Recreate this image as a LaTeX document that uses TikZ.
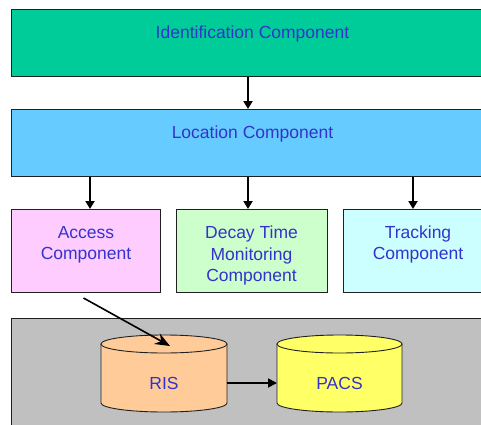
\documentclass[tikz,border=0pt]{standalone}
\usepackage{fontspec}
\setmainfont{Liberation Sans}
\usetikzlibrary{arrows.meta,calc}
\definecolor{idgreen}{HTML}{00CC99}
\definecolor{locblue}{HTML}{66CCFF}
\definecolor{accpink}{HTML}{FFCCFF}
\definecolor{decgreen}{HTML}{CCFFCC}
\definecolor{trkcyan}{HTML}{CCFFFF}
\definecolor{grayback}{HTML}{C0C0C0}
\definecolor{risorange}{HTML}{FFCC99}
\definecolor{pacsyellow}{HTML}{FFFF66}
\definecolor{txtblue}{HTML}{3333CC}
\definecolor{edge}{HTML}{202020}
\begin{document}
\begin{tikzpicture}[x=1pt,y=1pt,
  box/.style={draw=edge, line width=1pt, anchor=north west, inner sep=0pt},
  txt/.style={text=txtblue, font=\fontsize{17.5}{21.5}\selectfont, align=center, inner sep=0pt},
  varr/.style={line width=2.2pt, -{Triangle[length=8pt,width=9pt]}},
  darr/.style={line width=1.6pt, -{Stealth[length=15pt,width=12pt,inset=5pt]}},
  harr/.style={line width=1.8pt, -{Triangle[length=9pt,width=9pt]}},
  cyl/.style={draw=edge, line width=0.9pt}]
\useasboundingbox (0,0) rectangle (481,424);
\clip (0,0) rectangle (481,424);
% boxes
\node[box, fill=idgreen, minimum width=482pt, minimum height=67pt] (id) at (11,415) {};
\node[box, fill=locblue, minimum width=482pt, minimum height=67pt] (loc) at (11,315) {};
\node[box, fill=accpink, minimum width=149pt, minimum height=83pt] (acc) at (11,215) {};
\node[box, fill=decgreen, minimum width=151pt, minimum height=83pt] (dec) at (176,215) {};
\node[box, fill=trkcyan, minimum width=150pt, minimum height=83pt] (trk) at (343,215) {};
\node[box, fill=grayback, minimum width=482pt, minimum height=120pt] (db) at (11,106) {};
% texts
\node[txt] (idt) at (252.5,390) {Identification Component};
\node[txt] (loct) at (252.5,290) {Location Component};
\node[txt] (acct) at (86,179) {Access\\Component};
\node[txt] (dect) at (251.5,168.5) {Decay Time\\Monitoring\\Component};
\node[txt] (trkt) at (418,179.5) {Tracking\\Component};
% vertical arrows
\draw[varr] (248,0 |- id.south) -- (248,0 |- loc.north);
\draw[varr] (90,0 |- loc.south) -- (90,0 |- acc.north);
\draw[varr] (248,0 |- loc.south) -- (248,0 |- dec.north);
\draw[varr] (413,0 |- loc.south) -- (413,0 |- trk.north);
% cylinders
\filldraw[cyl, fill=risorange] (101,80) -- (101,21) arc[start angle=180, end angle=360, x radius=63, y radius=9] -- (227,80) -- cycle;
\filldraw[cyl, fill=risorange] (164,80) ellipse[x radius=63, y radius=9];
\filldraw[cyl, fill=pacsyellow] (277,80) -- (277,21) arc[start angle=180, end angle=360, x radius=62.5, y radius=9] -- (402,80) -- cycle;
\filldraw[cyl, fill=pacsyellow] (339.5,80) ellipse[x radius=62.5, y radius=9];
\node[txt] (ris) at (164,41) {RIS};
\node[txt] (pacs) at (339.5,41) {PACS};
\coordinate (risR) at (227,41);
\coordinate (pacsL) at (277,41);
\coordinate (accout) at ($(acc.south)+(-2.5,-5)$);
\coordinate (ristop) at (170,78);
% connectors
\draw[darr] (accout) -- (ristop);
\draw[harr] (risR) -- (pacsL);
\end{tikzpicture}
\end{document}
